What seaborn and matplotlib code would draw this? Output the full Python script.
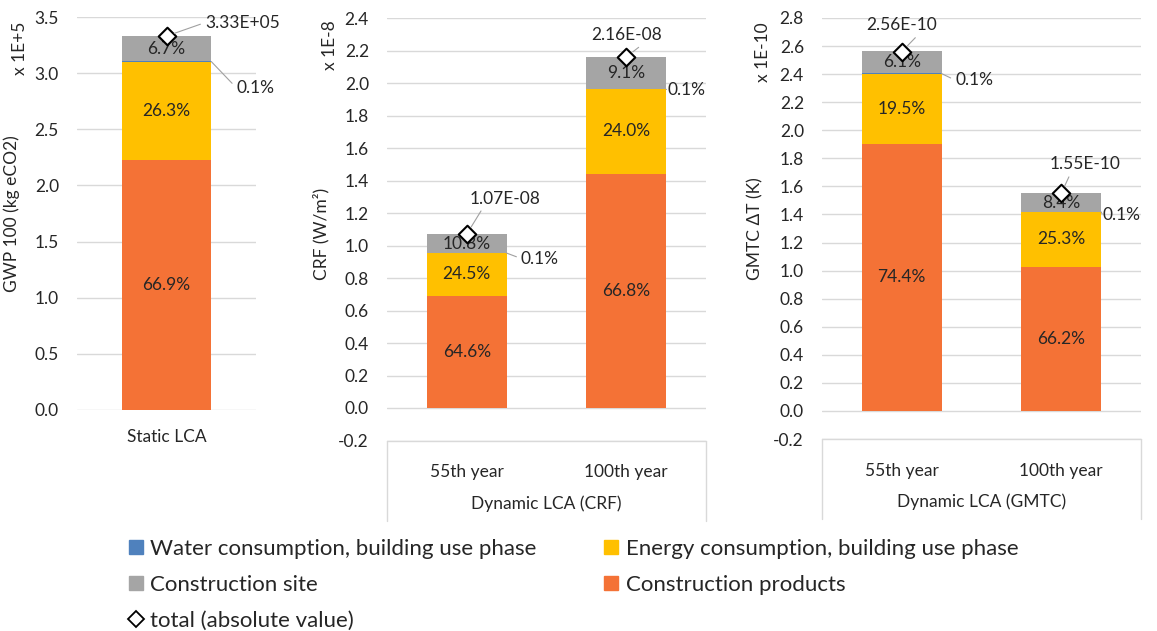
import numpy as np
import matplotlib
matplotlib.use("Agg")
import matplotlib.pyplot as plt
import seaborn as sns
from matplotlib.lines import Line2D

sns.set_theme(style="white")
plt.rcParams['font.family'] = ['Lato', 'DejaVu Sans']
plt.rcParams['axes.unicode_minus'] = False

# ---------------- data ----------------
static_cats = ["Static LCA"]
static_total = [3.33]
static_products = [66.9]
static_energy = [26.3]
static_water = [0.1]
static_site = [6.7]
static_total_labels = ["3.33E+05"]

crf_cats = ["55th year", "100th year"]
crf_total = [1.07, 2.16]
crf_products = [64.6, 66.8]
crf_energy = [24.5, 24.0]
crf_water = [0.1, 0.1]
crf_site = [10.8, 9.1]
crf_total_labels = ["1.07E-08", "2.16E-08"]

gmtc_cats = ["55th year", "100th year"]
gmtc_total = [2.56, 1.55]
gmtc_products = [74.4, 66.2]
gmtc_energy = [19.5, 25.3]
gmtc_water = [0.1, 0.1]
gmtc_site = [6.1, 8.4]
gmtc_total_labels = ["2.56E-10", "1.55E-10"]

series_names = ["Water consumption, building use phase",
                "Energy consumption, building use phase",
                "Construction site",
                "Construction products",
                "total (absolute value)"]

# ---------------- style ----------------
ORANGE = "#F47236"
YELLOW = "#FFC000"
GREY = "#A5A5A5"
BLUE = "#4F81BD"
GRID = "#D9D9D9"
TXT = "#262626"
LEAD = "#A0A0A0"
FS = 12.5
FSL = 12.5

fig = plt.figure(figsize=(11.57, 6.31), dpi=100)
W, H = 1157, 631


def add_axes(x0, x1, ytop, ybot):
    return fig.add_axes([x0 / W, 1 - ybot / H, (x1 - x0) / W, (ybot - ytop) / H])


def draw(ax, cats, total, prod, energy, water, site, tot_labels,
         ylim, ystep, tot_pos, pct_pos):
    total = np.array(total, float)
    s_prod = np.array(prod) / 100 * total
    s_energy = np.array(energy) / 100 * total
    s_water = np.array(water) / 100 * total
    s_site = np.array(site) / 100 * total
    c1 = s_prod
    c2 = c1 + s_energy
    c3 = c2 + s_water
    c4 = c3 + s_site
    for vals, col in [(c4, GREY), (c3, BLUE), (c2, YELLOW), (c1, ORANGE)]:
        sns.barplot(x=cats, y=vals, color=col, width=0.5, saturation=1,
                    ax=ax, zorder=2, linewidth=0)
    idx = np.arange(len(cats))
    # percentage labels
    for i in idx:
        ax.text(i, c1[i] / 2, f"{prod[i]:.1f}%", ha="center", va="center",
                fontsize=FSL, color=TXT, zorder=4)
        ax.text(i, (c1[i] + c2[i]) / 2, f"{energy[i]:.1f}%", ha="center",
                va="center", fontsize=FSL, color=TXT, zorder=4)
        ax.text(i, (c3[i] + c4[i]) / 2, f"{site[i]:.1f}%", ha="center",
                va="center", fontsize=FSL, color=TXT, zorder=4)
    # totals
    ax.scatter(idx, total, marker="D", s=80, facecolor="white",
               edgecolor="black", linewidth=1.5, zorder=6)
    for i in idx:
        (tx, ty, ha, va, rp) = tot_pos[i]
        ax.annotate(tot_labels[i], xy=(i, total[i]), xytext=(i + tx, ty),
                    ha=ha, va=va, fontsize=FSL, color=TXT, zorder=7,
                    arrowprops=dict(arrowstyle="-", color=LEAD, lw=0.8,
                                    relpos=rp, shrinkA=1, shrinkB=6))
        (px, py) = pct_pos[i]
        ax.annotate(f"{water[i]:.1f}%", xy=(i + 0.25, c2[i]),
                    xytext=(i + px, py), ha="left", va="center",
                    fontsize=FSL, color=TXT, zorder=7,
                    arrowprops=dict(arrowstyle="-", color=LEAD, lw=0.8,
                                    relpos=(0, 0.5), shrinkA=1, shrinkB=0))
    ax.set_ylim(*ylim)
    ax.set_xlim(-0.5, len(cats) - 0.5)
    ticks = np.round(np.arange(ylim[0], ylim[1] + 1e-9, ystep), 2)
    ax.set_yticks(ticks)
    ax.set_yticklabels([f"{t:.1f}" for t in ticks])
    ax.yaxis.grid(True, color=GRID, lw=1)
    ax.set_axisbelow(True)
    for s in ax.spines.values():
        s.set_visible(False)
    ax.tick_params(axis="y", length=0, pad=13, labelsize=FS, labelcolor=TXT)
    ax.set_xlabel("")
    ax.set_ylabel("")


# Panel 1: static
ax1 = add_axes(77, 256, 17, 410)
draw(ax1, static_cats, static_total, static_products, static_energy,
     static_water, static_site, static_total_labels,
     (0, 3.5), 0.5,
     tot_pos=[(0.215, 3.45, "left", "center", (0, 0.5))],
     pct_pos=[(0.39, 2.87)])
ax1.tick_params(axis="x", length=0, pad=14, labelsize=FS, labelcolor=TXT)
ax1.set_ylabel("GWP 100 (kg eCO2)", fontsize=FS, color=TXT)
ax1.yaxis.set_label_coords(-0.318, 0.5)
ax1.text(-0.318, 0.92, "x 1E+5", transform=ax1.transAxes, rotation=90,
         ha="center", va="center", fontsize=FS, color=TXT)

# Panel 2: CRF
ax2 = add_axes(387, 706, 18, 440.5)
draw(ax2, crf_cats, crf_total, crf_products, crf_energy, crf_water,
     crf_site, crf_total_labels, (-0.2, 2.4), 0.2,
     tot_pos=[(0.24, 1.24, "center", "bottom", (0.2, 0)),
              (0.0, 2.245, "center", "bottom", (0.75, 0))],
     pct_pos=[(0.34, 0.92), (0.26, 1.957)])
ax2.tick_params(axis="x", length=0, pad=17, labelsize=FS, labelcolor=TXT)
ax2.set_ylabel("CRF (W/m²)", fontsize=FS, color=TXT)
ax2.yaxis.set_label_coords(-0.179, 0.49)
ax2.text(-0.179, 0.936, "x 1E-8", transform=ax2.transAxes, rotation=90,
         ha="center", va="center", fontsize=FS, color=TXT)

# Panel 3: GMTC
ax3 = add_axes(822, 1141, 18, 439)
draw(ax3, gmtc_cats, gmtc_total, gmtc_products, gmtc_energy, gmtc_water,
     gmtc_site, gmtc_total_labels, (-0.2, 2.8), 0.2,
     tot_pos=[(0.0, 2.69, "center", "bottom", (0.75, 0)),
              (0.15, 1.70, "center", "bottom", (0.3, 0))],
     pct_pos=[(0.335, 2.357), (0.26, 1.396)])
ax3.tick_params(axis="x", length=0, pad=17, labelsize=FS, labelcolor=TXT)
ax3.set_ylabel("GMTC ΔT (K)", fontsize=FS, color=TXT)
ax3.yaxis.set_label_coords(-0.185, 0.50)
ax3.text(-0.185, 0.919, "x 1E-10", transform=ax3.transAxes, rotation=90,
         ha="center", va="center", fontsize=FS, color=TXT)

# category group boxes for dynamic panels
for ax, title in [(ax2, "Dynamic LCA (CRF)"), (ax3, "Dynamic LCA (GMTC)")]:
    for xx in (0, 1):
        ax.add_line(Line2D([xx, xx], [0, -0.19], transform=ax.transAxes,
                           color=GRID, lw=1, clip_on=False))
    ax.add_line(Line2D([0, 1], [0, 0], transform=ax.transAxes,
                       color=GRID, lw=1, clip_on=False))
    ax.text(0.5, -0.15, title, transform=ax.transAxes, ha="center",
            va="center", fontsize=FS, color=TXT)

# legend
handles = [
    Line2D([], [], marker="s", ls="none", markersize=10, color=BLUE),
    Line2D([], [], marker="s", ls="none", markersize=10, color=GREY),
    Line2D([], [], marker="D", ls="none", markersize=8,
           markerfacecolor="white", markeredgecolor="black", markeredgewidth=1.3),
    Line2D([], [], marker="s", ls="none", markersize=10, color=YELLOW),
    Line2D([], [], marker="s", ls="none", markersize=10, color=ORANGE),
]
labels = [series_names[0], series_names[2], series_names[4],
          series_names[1], series_names[3]]
fig.legend(handles, labels, ncol=2, loc="upper left",
           bbox_to_anchor=(127 / W, 1 - 539 / H), frameon=False,
           fontsize=16, handlelength=0.8, handletextpad=0.25,
           labelspacing=0.72, columnspacing=2.95, borderpad=0,
           borderaxespad=0, labelcolor=TXT)

fig.savefig("out.png", dpi=100)
